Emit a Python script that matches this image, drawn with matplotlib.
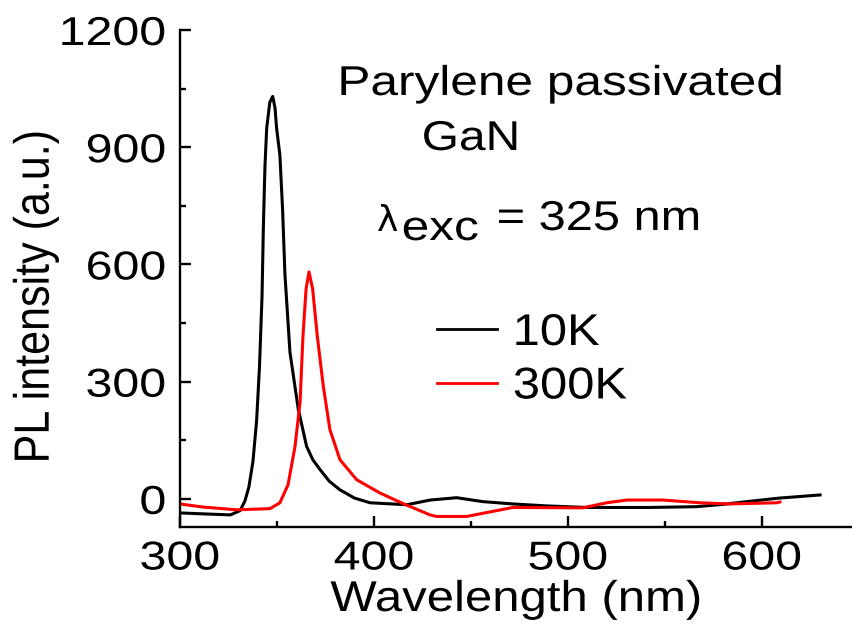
import matplotlib
matplotlib.use("Agg")
import matplotlib.pyplot as plt
from matplotlib.patheffects import AbstractPathEffect
from matplotlib.transforms import Affine2D

plt.rcParams['font.family'] = ['Liberation Sans', 'DejaVu Sans']

# 10K spectrum
wl_10k = [300, 315, 326, 331, 333.5, 335.5, 337.6, 339.5, 341, 342.3, 343, 343.8,
          344.7, 346.3, 347.8, 349, 349.8, 351.5, 352.9, 354.1, 356.7, 361, 365.3,
          368.5, 372.2, 377, 382.5, 390, 398, 417, 429, 442.6, 456, 471.6, 489, 510,
          542, 566.5, 580, 592.3, 609, 630]
pl_10k = [-36, -39, -41, -30, -5, 30, 95, 200, 340, 520, 700, 850,
          949, 1015, 1030, 1000, 949, 880, 740, 575, 375, 229, 134,
          100, 75, 45, 23, 2, -10, -15, -3, 3, -7, -13, -18, -22,
          -22, -20, -14, -7, 2, 10]

# 300K spectrum
wl_300k = [300, 311.9, 329.4, 346.4, 351.5, 355.7, 359.3, 361.9, 363.4, 365, 366.5,
           368.4, 370.8, 373.9, 377.3, 382.5, 391.1, 403.1, 415, 428.9, 432.3,
           447.8, 471.6, 507.7, 520, 530.4, 542.3, 549, 568, 583.5, 607.7, 609.3]
pl_300k = [-13, -21, -28, -25, -10, 36, 134, 247, 416, 537, 581,
           537, 416, 288, 177, 100, 49, 15, -12, -41, -45,
           -45, -22, -23, -10, -3, -3, -3, -10, -13, -10, -8]


class Stretch(AbstractPathEffect):
    # the lettering in the original is wider than plain Arial
    def __init__(self, sx=1.18, anchor='left'):
        super().__init__()
        self.sx = sx
        self.anchor = anchor

    def draw_path(self, renderer, gc, tpath, affine, rgbFace=None):
        ext = tpath.transformed(affine).get_extents()
        x0 = {'left': ext.x0, 'center': (ext.x0 + ext.x1) / 2, 'right': ext.x1}[self.anchor]
        a = affine + Affine2D().translate(-x0, 0).scale(self.sx, 1).translate(x0, 0)
        renderer.draw_path(gc, tpath, a, rgbFace)


W, H = 853, 628
fig = plt.figure(figsize=(W / 100, H / 100), dpi=100)
ax = fig.add_axes([180 / W, 1 - 527 / H, 1 - 180 / W, (527 - 30) / H])

ax.plot(wl_10k, pl_10k, color='black', lw=2.2, label='10K')
ax.plot(wl_300k, pl_300k, color='#ff0000', lw=2.2, label='300K')

ax.set_xlim(300, 647)
ax.set_ylim(-72, 1200)
ax.set_xticks([300, 400, 500, 600])
ax.set_xticks([350, 450, 550], minor=True)
ax.set_yticks([0, 300, 600, 900, 1200])
ax.set_yticks([150, 450, 750, 1050], minor=True)

for s in ['top', 'right']:
    ax.spines[s].set_visible(False)
for s in ['left', 'bottom']:
    ax.spines[s].set_linewidth(1.7)

ax.tick_params(which='both', direction='in', width=1.7, labelsize=29)
ax.tick_params(which='major', length=8)
ax.tick_params(which='minor', length=4)
ax.tick_params(axis='y', pad=10)
ax.tick_params(axis='x', pad=9)
for lbl in ax.get_xticklabels():
    lbl.set_path_effects([Stretch(1.2, 'center')])
for lbl in ax.get_yticklabels():
    lbl.set_path_effects([Stretch(1.2, 'right')])

fig.text(516 / W, 1 - 600 / H, 'Wavelength (nm)', fontsize=31, ha='center', va='center',
         path_effects=[Stretch(1.14, 'center')])
fig.text(36 / W, 1 - 297 / H, 'PL intensity (a.u.)', fontsize=31, rotation=90,
         ha='center', va='center', path_effects=[Stretch(1.15, 'center')])

# annotations
fig.text(338 / W, 1 - 95 / H, 'Parylene passivated', fontsize=30, ha='left', va='baseline',
         path_effects=[Stretch(1.19)])
fig.text(422 / W, 1 - 150 / H, 'GaN', fontsize=30, ha='left', va='baseline',
         path_effects=[Stretch(1.15)])
fig.text(377 / W, 1 - 231 / H, 'λ', fontsize=26, ha='left', va='baseline',
         family=['DejaVu Sans'])
fig.text(402 / W, 1 - 240 / H, 'exc', fontsize=30, ha='left', va='baseline',
         path_effects=[Stretch(1.19)])
fig.text(497 / W, 1 - 230 / H, '= 325 nm', fontsize=30, ha='left', va='baseline',
         path_effects=[Stretch(1.17)])

leg = ax.legend(loc='upper left', bbox_to_anchor=(437 / W, 1 - 313 / H),
                bbox_transform=fig.transFigure, frameon=False, fontsize=32,
                handlelength=1.35, handletextpad=0.36, labelspacing=0.28,
                borderpad=0, borderaxespad=0)
for line in leg.get_lines():
    line.set_linewidth(2.0)
for t in leg.get_texts():
    t.set_path_effects([Stretch(1.1)])

fig.savefig('out.png', dpi=100)
